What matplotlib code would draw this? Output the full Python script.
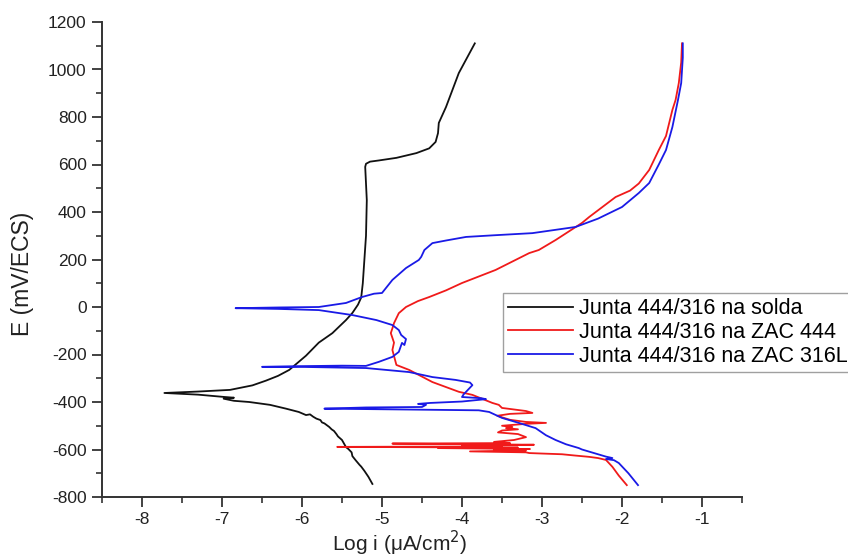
import matplotlib
matplotlib.use("Agg")
import matplotlib.pyplot as plt
from matplotlib.ticker import MultipleLocator

plt.rcParams['font.family'] = ['Liberation Sans', 'DejaVu Sans']
plt.rcParams['axes.unicode_minus'] = False

# ---- data ----
solda_logi = [-5.12, -5.17, -5.22, -5.26, -5.28, -5.33, -5.37, -5.38, -5.42, -5.45, -5.47,
              -5.5, -5.55, -5.57, -5.6, -5.63, -5.66, -5.68, -5.72, -5.75, -5.77, -5.82, -5.86,
              -5.9, -5.95, -6.04, -6.2, -6.4, -6.66, -6.85, -6.98, -6.85, -7.0, -7.3, -7.72,
              -7.3, -6.9, -6.62, -6.45, -6.3, -6.16, -5.95, -5.79, -5.62, -5.54, -5.45, -5.37,
              -5.3, -5.26, -5.24, -5.22, -5.2, -5.19, -5.21, -5.2, -5.15, -5.04, -4.82, -4.57,
              -4.41, -4.33, -4.3, -4.29, -4.2, -4.04, -3.84]
solda_E = [-745, -715, -690, -672, -665, -645, -628, -612, -598, -590, -578,
           -560, -545, -535, -522, -515, -505, -500, -490, -486, -476, -470, -462,
           -452, -455, -442, -428, -412, -400, -395, -386, -382, -378, -369, -362,
           -356, -349, -330, -310, -290, -265, -205, -150, -110, -84, -55, -25,
           10, 40, 100, 200, 300, 450, 590, 603, 612, 617, 628, 648,
           668, 695, 732, 775, 842, 985, 1110]

zac444_logi = [-1.94, -2.04, -2.12, -2.2, -2.3, -2.41, -2.6, -2.75, -3.0, -3.16, -3.2, -3.9,
               -3.2, -3.6, -3.15, -4.3, -3.3, -5.56, -3.5, -4.0, -3.1, -4.87, -3.4, -3.6,
               -3.35, -3.2, -3.3, -3.55, -3.5, -3.3, -3.45, -3.37, -3.5, -3.2, -2.95, -3.2,
               -3.4, -3.56, -3.4, -3.12, -3.2, -3.5, -3.54, -3.62, -3.87, -4.04, -4.37, -4.66,
               -4.82, -4.87, -4.85, -4.89, -4.87, -4.85, -4.79, -4.7, -4.55, -4.41, -4.2, -4.0,
               -3.58, -3.16, -3.04, -2.83, -2.5, -2.41, -2.08, -1.9, -1.79, -1.66, -1.54, -1.45,
               -1.37, -1.33, -1.29, -1.26, -1.25]
zac444_E = [-750, -710, -673, -644, -636, -631, -625, -620, -617, -615, -612, -608,
            -604, -600, -598, -594, -592, -589, -587, -584, -580, -575, -573, -568,
            -560, -548, -535, -528, -520, -515, -510, -505, -500, -492, -488, -484,
            -475, -458, -450, -446, -438, -425, -412, -404, -370, -357, -316, -265,
            -244, -181, -150, -110, -90, -68, -26, 0, 25, 42, 70, 101,
            156, 227, 240, 282, 354, 379, 463, 490, 520, 577, 661, 720,
            830, 872, 943, 1030, 1110]

zac316_logi = [-1.8, -1.92, -2.04, -2.1, -2.2, -2.12, -2.2, -2.35, -2.5, -2.54, -2.7, -2.83,
               -2.95, -3.08, -3.29, -3.5, -3.66, -3.79, -4.6, -5.72, -5.2, -4.5, -4.45, -4.55,
               -4.4, -4.0, -3.7, -3.76, -4.0, -3.98, -3.87, -3.9, -4.08, -4.37, -4.66, -5.2,
               -6.04, -6.5, -6.0, -5.5, -5.2, -5.04, -4.87, -4.79, -4.75, -4.72, -4.7, -4.76,
               -4.79, -4.87, -5.07, -5.37, -5.79, -6.3, -6.83, -6.3, -5.79, -5.45, -5.25, -5.1,
               -5.0, -4.87, -4.7, -4.54, -4.51, -4.47, -4.37, -4.2, -3.95, -3.6, -3.12, -2.58,
               -2.3, -2.08, -2.0, -1.79, -1.66, -1.54, -1.45, -1.37, -1.3, -1.26, -1.24, -1.24]
zac316_E = [-750, -700, -657, -645, -640, -636, -630, -615, -600, -594, -578, -560,
            -540, -510, -488, -467, -442, -435, -432, -428, -423, -421, -412, -408,
            -404, -398, -388, -384, -379, -368, -329, -318, -307, -295, -274, -257,
            -252, -252, -249, -247, -248, -231, -210, -189, -151, -160, -135, -118,
            -97, -76, -55, -34, -13, -8, -5, -2, 0, 17, 42, 56,
            59, 114, 164, 198, 211, 240, 269, 280, 295, 302, 311, 337,
            372, 408, 421, 480, 522, 600, 661, 758, 872, 943, 1050, 1110]

labels = ["Junta 444/316 na solda", "Junta 444/316 na ZAC 444", "Junta 444/316 na ZAC 316L"]
colors = ["#111111", "#f01a1a", "#1a1ae6"]

x_ticks = [-8, -7, -6, -5, -4, -3, -2, -1]
y_ticks = [-800, -600, -400, -200, 0, 200, 400, 600, 800, 1000, 1200]

# ---- figure ----
fig = plt.figure(figsize=(8.48, 5.59), dpi=100)
ax = fig.add_axes([102/848, 1-497/559, (742-102)/848, (497-22)/559])

series = [(solda_logi, solda_E), (zac444_logi, zac444_E), (zac316_logi, zac316_E)]
for (xs, ys), lab, c in zip(series, labels, colors):
    ax.plot(xs, ys, color=c, lw=1.3, label=lab)

ax.set_xlim(-8.5, -0.5)
ax.set_ylim(-800, 1200)
ax.set_xticks(x_ticks)
ax.set_yticks(y_ticks)
ax.xaxis.set_minor_locator(MultipleLocator(0.5))
ax.yaxis.set_minor_locator(MultipleLocator(100))

for s in ['top', 'right']:
    ax.spines[s].set_visible(False)
for s in ['left', 'bottom']:
    ax.spines[s].set_linewidth(1.4)
    ax.spines[s].set_color('#333333')

ax.tick_params(which='major', direction='out', length=7, width=1.3, colors='#333333',
               labelsize=12.5, labelcolor='#222222', pad=4)
ax.tick_params(which='minor', direction='out', length=4, width=1.2, colors='#333333')

ax.set_xlabel("Log i (μA/cm$^2$)", fontsize=15, color='#222222')
ax.set_ylabel("E (mV/ECS)", fontsize=16.5, color='#222222')
ax.xaxis.set_label_coords((400-102)/640, -(543-497)/475)
ax.xaxis.label.set_va('center')
ax.yaxis.set_label_coords(-(102-22)/640, (497-274)/475)
ax.yaxis.label.set_va('center')

leg = fig.legend(loc='upper left', bbox_to_anchor=(503/848, 1-293/559), fontsize=15.5,
                 frameon=True, fancybox=False, borderpad=0.25, labelspacing=0.12,
                 handlelength=3.0, handletextpad=0.3, borderaxespad=0)
leg.get_frame().set_edgecolor('#888888')
leg.get_frame().set_linewidth(1.0)

fig.savefig("out.png", dpi=100)
